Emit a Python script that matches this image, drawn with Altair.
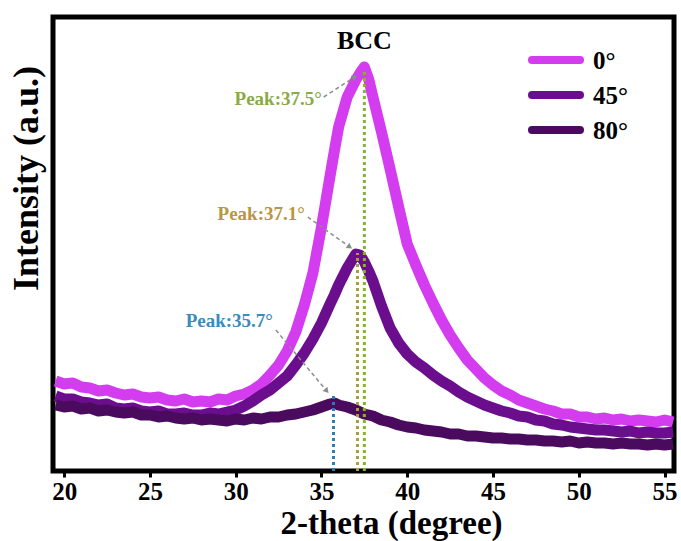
import altair as alt
import pandas as pd

# ---- data ----
two_theta = [19.5, 20, 20.5, 21, 21.5, 22, 22.5, 23, 23.5, 24, 24.5, 25, 25.5, 26, 26.5, 27, 27.5,
             28, 28.5, 29, 29.5, 30, 30.5, 31, 31.5, 32, 32.5, 33, 33.5, 34, 34.5, 35, 35.5,
             35.75, 36, 36.5, 37, 37.25, 37.5, 37.75,
             38, 38.5, 39, 39.5, 40, 40.5, 41, 41.5, 42, 42.5, 43, 43.5, 44, 44.5, 45, 45.5,
             46, 46.5, 47, 47.5, 48, 48.5, 49, 49.5, 50, 50.5, 51, 51.5, 52, 52.5, 53, 53.5,
             54, 54.5, 55, 55.5]

int_0 = [90, 87, 88, 84, 83, 80, 81, 78, 76, 77, 74, 73, 74, 71, 70, 72, 69, 70, 69, 72, 71, 75,
         77, 81, 87, 96, 106, 120, 139, 166, 198, 244, 295,
         320, 344, 374, 391, 398, 404, 392,
         374, 339, 302, 264, 227, 206, 186, 168, 151, 136, 123, 111, 102, 93, 86, 80, 76, 71, 68,
         65, 62, 60, 57, 57, 54, 54, 52, 53, 51, 52, 50, 51, 50, 49, 51, 49]

int_45 = [75, 72, 72, 69, 68, 66, 67, 63, 62, 63, 60, 59, 60, 57, 57, 58, 56, 56, 58, 57, 59, 61,
          65, 70, 76, 81, 88, 95, 106, 118, 132, 148, 167,
          176, 186, 203, 217, 216, 209, 200,
          190, 165, 143, 128, 117, 109, 103, 96, 90, 85, 79, 74, 70, 66, 63, 60, 58, 55, 54, 51,
          50, 47, 46, 44, 43, 42, 41, 41, 40, 39, 40, 38, 39, 38, 38, 39]

int_80 = [66, 64, 65, 62, 63, 60, 61, 59, 58, 59, 56, 56, 54, 55, 53, 52, 53, 51, 52, 51, 50, 52,
          51, 53, 52, 54, 54, 56, 57, 59, 61, 64, 67,
          68, 66, 64, 61, 59, 57, 56,
          55, 51, 49, 46, 44, 43, 41, 40, 39, 37, 37, 35, 35, 34, 33, 33, 32, 32, 31, 31, 30, 30,
          29, 30, 28, 29, 28, 28, 27, 28, 27, 27, 26, 27, 26, 27]

series_names = ["0°", "45°", "80°"]
series_colors = ["#D43CF0", "#6B0E8E", "#4A0A5E"]

peak_angles = [35.7, 37.1, 37.5]
peak_base = [0, 0, 0]
peak_tops = [78, 218, 400]
peak_labels = ["Peak:35.7°", "Peak:37.1°", "Peak:37.5°"]
label_colors = ["#3B8CBB", "#B8973E", "#8AAA48"]
dot_colors = ["#2E7DB2", "#A99A55", "#86B23A"]
label_x = [32.17, 34.03, 35.02]
label_y = [150, 257, 372]
arrow_x0 = [32.34, 34.20, 35.13]
arrow_y0 = [141, 254, 374]
arrow_x1 = [35.31, 36.65, 36.94]
arrow_y1 = [80, 224, 394]
arrow_angle = [140, 125, 57]

phase_label = ["BCC"]
phase_x = [37.5]
phase_y = [430]

x_ticks = [20, 25, 30, 35, 40, 45, 50, 55]

# ---- tables ----
assert len(two_theta) == len(int_0) == len(int_45) == len(int_80)
rows = []
for name, vals in zip(series_names, [int_0, int_45, int_80]):
    for t, v in zip(two_theta, vals):
        rows.append({"theta": t, "intensity": v, "series": name})
df = pd.DataFrame(rows)

peaks = pd.DataFrame({"angle": peak_angles, "base": peak_base, "top": peak_tops,
                      "label": peak_labels, "lcolor": label_colors, "dcolor": dot_colors,
                      "lx": label_x, "ly": label_y,
                      "ax0": arrow_x0, "ay0": arrow_y0, "ax1": arrow_x1, "ay1": arrow_y1,
                      "ang": arrow_angle})
phase = pd.DataFrame({"label": phase_label, "x": phase_x, "y": phase_y})

FONT = "Liberation Serif"
xscale = alt.Scale(domain=[19.35, 55.55], nice=False, zero=False)
yscale = alt.Scale(domain=[0, 454], nice=False, zero=False)

lines = alt.Chart(df).mark_line(strokeWidth=11, strokeJoin="round", clip=True).encode(
    x=alt.X("theta:Q", scale=xscale,
            axis=alt.Axis(values=x_ticks, format="d", tickSize=6, tickWidth=3, tickColor="black",
                          labelFont=FONT, labelFontSize=25, labelFontWeight="bold",
                          labelColor="black", labelPadding=2, domain=False, grid=False,
                          title="2-theta (degree)", titleFont=FONT, titleFontSize=33,
                          titleFontWeight="bold", titleColor="black", titleX=338, titleY=62,
                          titleBaseline="alphabetic")),
    y=alt.Y("intensity:Q", scale=yscale,
            axis=alt.Axis(ticks=False, labels=False, domain=False, grid=False,
                          title="Intensity (a.u.)", titleFont=FONT, titleFontSize=36,
                          titleFontWeight="bold", titleColor="black", titleX=-16, titleY=161,
                          titleAngle=270, titleBaseline="alphabetic")),
    color=alt.Color("series:N", scale=alt.Scale(domain=series_names, range=series_colors),
                    legend=None),
)

dotted = alt.Chart(peaks).mark_rule(strokeDash=[3, 3], strokeWidth=3).encode(
    x=alt.X("angle:Q", scale=xscale),
    y=alt.Y("base:Q", scale=yscale),
    y2="top:Q",
    color=alt.Color("dcolor:N", scale=None),
)

arrows = alt.Chart(peaks).mark_rule(strokeDash=[4, 3], strokeWidth=1.5, color="#8c8c8c").encode(
    x=alt.X("ax0:Q", scale=xscale), y=alt.Y("ay0:Q", scale=yscale),
    x2="ax1:Q", y2="ay1:Q",
)

heads = alt.Chart(peaks).mark_point(shape="triangle-up", filled=True, size=40, opacity=1,
                                    color="#8c8c8c").encode(
    x=alt.X("ax1:Q", scale=xscale), y=alt.Y("ay1:Q", scale=yscale),
    angle=alt.Angle("ang:Q", scale=None),
)

labels = alt.Chart(peaks).mark_text(align="right", baseline="middle", font=FONT,
                                    fontWeight="bold", fontSize=19).encode(
    x=alt.X("lx:Q", scale=xscale), y=alt.Y("ly:Q", scale=yscale),
    text="label:N",
    color=alt.Color("lcolor:N", scale=None),
)

phase_text = alt.Chart(phase).mark_text(align="center", baseline="middle", font=FONT,
                                        fontWeight="bold", fontSize=26, color="black").encode(
    x=alt.X("x:Q", scale=xscale), y=alt.Y("y:Q", scale=yscale), text="label:N",
)

# manual legend (positions in pixels of the plot area)
legend_layers = []
for i, (name, col) in enumerate(zip(series_names, series_colors)):
    ypix = 43 + i * 35
    leg_df = pd.DataFrame({"label": [name]})
    legend_layers.append(
        alt.Chart(leg_df).mark_rule(strokeWidth=8, color=col, strokeCap="round").encode(
            x=alt.value(479), x2=alt.value(527), y=alt.value(ypix)))
    legend_layers.append(
        alt.Chart(leg_df).mark_text(align="left", baseline="middle", font=FONT,
                                    fontWeight="bold", fontSize=25, color="black").encode(
            x=alt.value(540), y=alt.value(ypix + 1), text="label:N"))

chart = alt.layer(lines, dotted, arrows, heads, labels, phase_text, *legend_layers).resolve_scale(
    color="independent"
).properties(
    width=621, height=454,
    autosize=alt.AutoSizeParams(type="none"),
    padding={"left": 53, "top": 17, "right": 7, "bottom": 70},
    background="white",
).configure_view(stroke="black", strokeWidth=5)

chart.save("out.html", embed_options={"renderer": "svg", "actions": False})
